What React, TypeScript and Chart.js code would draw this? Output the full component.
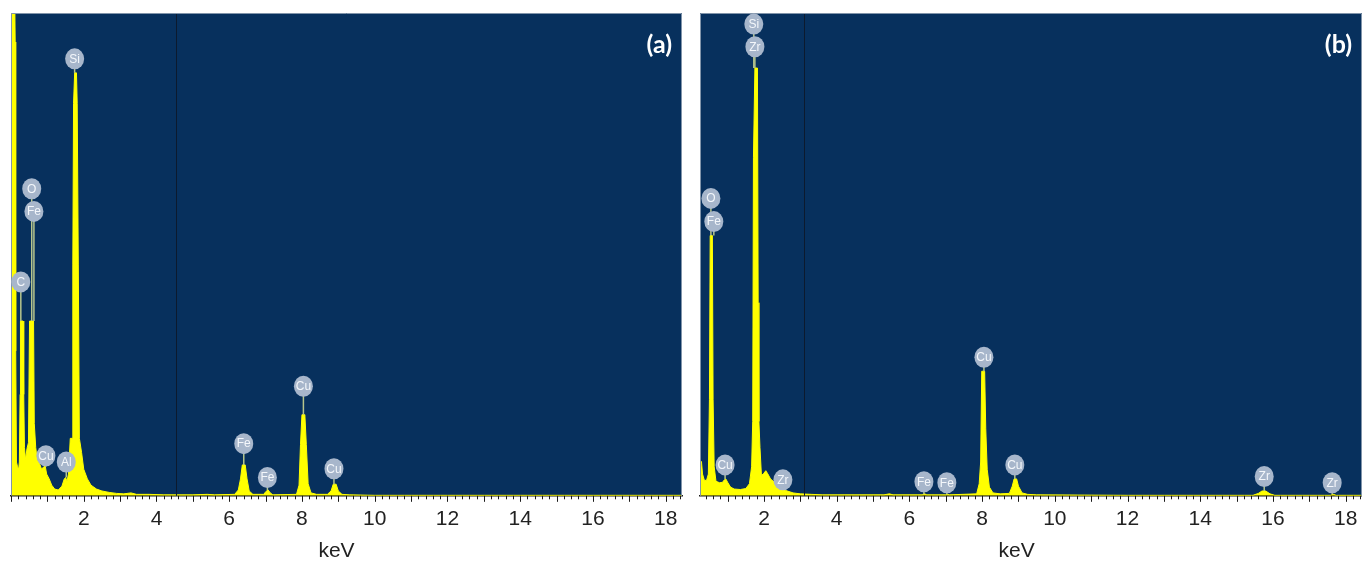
import React, { useEffect, useRef } from "react";
import { Chart, registerables } from "chart.js";
Chart.register(...registerables);

// ---------- data ----------
const tickValues = [2, 4, 6, 8, 10, 12, 14, 16, 18];

// Panel (a) spectrum: energy (keV) and counts (arbitrary, 0-1000 full scale)
const specA_keV = [
  0.0, 0.05, 0.1, 0.115, 0.13, 0.15, 0.18, 0.21, 0.23, 0.25, 0.26, 0.3, 0.33, 0.35, 0.37, 0.4, 0.44, 0.48,
  0.51, 0.57, 0.62, 0.64, 0.68, 0.72, 0.78, 0.84, 0.9, 0.94, 0.98, 1.05, 1.12, 1.2, 1.3, 1.4, 1.46, 1.5,
  1.54, 1.58, 1.63, 1.68, 1.7, 1.72, 1.75, 1.8, 1.82, 1.85, 1.88, 1.94, 2.0, 2.1, 2.2, 2.35, 2.5, 2.7,
  2.9, 3.1, 3.3, 3.45, 3.8, 4.2, 5.0, 5.4, 5.6, 6.15, 6.25, 6.31, 6.36, 6.44, 6.49, 6.55, 6.65, 6.95,
  7.01, 7.07, 7.13, 7.2, 7.85, 7.92, 7.96, 8.0, 8.08, 8.12, 8.17, 8.25, 8.4, 8.7, 8.8, 8.86, 8.94, 9.0,
  9.1, 9.3, 10.0, 12.0, 14.0, 16.0, 18.45,
];
const specA_counts = [
  1050, 1050, 1050, 940, 300, 70, 60, 55, 70, 210, 362, 362, 362, 210, 100, 75, 98, 110,
  362, 362, 362, 150, 100, 75, 68, 55, 60, 62, 45, 35, 22, 14, 12, 20, 34, 38,
  30, 45, 119, 119, 480, 813, 876, 876, 813, 480, 119, 90, 55, 35, 22, 14, 10, 7,
  5, 4, 6, 3, 3, 2, 2, 3, 2, 3, 12, 35, 64, 64, 35, 10, 3, 3,
  9, 12, 6, 2, 3, 22, 106, 168, 168, 106, 25, 6, 3, 3, 10, 24, 24, 10,
  3, 2, 1, 1, 1, 1, 1,
];

// Panel (b) spectrum
const specB_keV = [
  0.24, 0.28, 0.31, 0.36, 0.42, 0.47, 0.5, 0.52, 0.58, 0.6, 0.63, 0.68, 0.78, 0.86, 0.91, 0.95, 1.0, 1.08,
  1.18, 1.35, 1.5, 1.6, 1.66, 1.69, 1.71, 1.75, 1.82, 1.84, 1.86, 1.89, 1.93, 1.99, 2.05, 2.1, 2.18, 2.3,
  2.45, 2.6, 2.8, 3.0, 3.3, 3.6, 5.3, 5.45, 5.55, 6.35, 6.42, 6.48, 7.0, 7.05, 7.1, 7.85, 7.92, 7.96,
  7.99, 8.07, 8.1, 8.14, 8.2, 8.3, 8.5, 8.75, 8.83, 8.88, 8.95, 9.0, 9.1, 9.25, 9.5, 12.0, 15.45, 15.6,
  15.7, 15.8, 15.92, 16.05, 17.58, 17.66, 17.74, 18.45,
];
const specB_counts = [
  71, 71, 45, 32, 32, 45, 200, 539, 539, 200, 60, 30, 27, 28, 33, 35, 28, 18,
  14, 13, 15, 25, 60, 154, 700, 886, 886, 400, 154, 100, 42, 46, 52, 46, 35, 27,
  18, 11, 6, 4, 3, 2, 2, 4, 2, 2, 4, 2, 2, 3, 2, 4, 25, 70,
  258, 258, 140, 55, 18, 6, 4, 5, 20, 35, 35, 20, 6, 3, 2, 1, 1, 5,
  10, 10, 4, 1, 1, 3, 1, 1,
];

// Element tags: text, energy, tag height, peak height the stem reaches
const tagsA_text = ["C", "O", "Fe", "Si", "Cu", "Al", "Fe", "Fe", "Cu", "Cu"];
const tagsA_keV = [0.27, 0.57, 0.63, 1.75, 0.96, 1.52, 6.4, 7.05, 8.04, 8.88];
const tagsA_y = [443, 636, 589, 905, 83, 70, 108, 38, 227, 56];
const tagsA_stem = [362, 362, 362, 876, 60, 38, 64, 12, 168, 24];

const tagsB_text = ["O", "Fe", "Si", "Zr", "Cu", "Zr", "Fe", "Fe", "Cu", "Cu", "Zr", "Zr"];
const tagsB_keV = [0.54, 0.62, 1.72, 1.75, 0.93, 2.52, 6.4, 7.03, 8.05, 8.9, 15.76, 17.63];
const tagsB_y = [616, 568, 977, 930, 64, 33, 29, 27, 287, 64, 40, 27];
const tagsB_stem = [539, 539, 886, 886, 35, 12, 3, 3, 258, 35, 10, 3];

// ---------- style ----------
const NAVY = "#07305d";
const YELLOW = "#ffff00";
const BUBBLE = "#a7b6cb";
const STEM = "#b6c58c";
const FRAME = "#8194aa";

type PanelProps = {
  keV: number[];
  counts: number[];
  tagText: string[];
  tagKeV: number[];
  tagY: number[];
  tagStem: number[];
  xMin: number;
  xMax: number;
  cursor: number;
  letter: string;
  width: number;
  left: number;
  padLeft: number;
  padRight: number;
};

function Panel(p: PanelProps) {
  const ref = useRef<HTMLCanvasElement | null>(null);
  useEffect(() => {
    const canvas = ref.current!;
    const decor = {
      id: "decor",
      beforeDraw(chart: any) {
        const { ctx, chartArea: a } = chart;
        ctx.save();
        ctx.fillStyle = NAVY;
        ctx.fillRect(a.left, a.top, a.right - a.left, a.bottom - a.top);
        ctx.restore();
      },
      afterDatasetsDraw(chart: any) {
        const { ctx, chartArea: a } = chart;
        const xs = chart.scales.x;
        const ys = chart.scales.y;
        ctx.save();
        // cursor line
        const cx = Math.round(xs.getPixelForValue(p.cursor)) + 0.5;
        ctx.strokeStyle = "#0c1a2e";
        ctx.lineWidth = 1;
        ctx.beginPath();
        ctx.moveTo(cx, a.top);
        ctx.lineTo(cx, a.bottom);
        ctx.stroke();
        // frame
        ctx.strokeStyle = FRAME;
        ctx.beginPath();
        ctx.moveTo(a.left + 0.5, a.bottom);
        ctx.lineTo(a.left + 0.5, a.top + 0.5);
        ctx.lineTo(a.right - 0.5, a.top + 0.5);
        ctx.lineTo(a.right - 0.5, a.bottom);
        ctx.stroke();
        // stems
        ctx.strokeStyle = STEM;
        ctx.lineWidth = 1.5;
        for (let i = 0; i < p.tagText.length; i++) {
          const x = xs.getPixelForValue(p.tagKeV[i]);
          const y = ys.getPixelForValue(p.tagY[i]);
          const ye = ys.getPixelForValue(p.tagStem[i]);
          ctx.beginPath();
          ctx.moveTo(x, y + 9);
          ctx.lineTo(x, ye);
          ctx.stroke();
        }
        // bubbles
        for (let i = 0; i < p.tagText.length; i++) {
          const x = xs.getPixelForValue(p.tagKeV[i]);
          const y = ys.getPixelForValue(p.tagY[i]);
          ctx.fillStyle = BUBBLE;
          ctx.beginPath();
          ctx.ellipse(x, y, 9.5, 10.5, 0, 0, Math.PI * 2);
          ctx.fill();
          ctx.fillStyle = "#f4f7fb";
          ctx.font = "12px 'Liberation Sans', Arial, sans-serif";
          ctx.textAlign = "center";
          ctx.textBaseline = "middle";
          ctx.fillText(p.tagText[i], x, y + 0.5);
        }
        // panel letter
        ctx.fillStyle = "#ffffff";
        ctx.font = "bold 25px Lato, 'Open Sans', sans-serif";
        ctx.textAlign = "right";
        ctx.textBaseline = "middle";
        ctx.fillText(p.letter, a.right - 10, a.top + 32);
        ctx.restore();
      },
      afterDraw(chart: any) {
        const { ctx, chartArea: a } = chart;
        const xs = chart.scales.x;
        ctx.save();
        ctx.strokeStyle = "#1a1a1a";
        ctx.lineWidth = 1;
        const i0 = Math.ceil(p.xMin * 5);
        const i1 = Math.floor(p.xMax * 5);
        for (let i = i0; i <= i1; i++) {
          const v = i / 5;
          const x = Math.round(xs.getPixelForValue(v)) + 0.5;
          const len = i % 5 === 0 ? 6 : 3.5;
          ctx.beginPath();
          ctx.moveTo(x, a.bottom);
          ctx.lineTo(x, a.bottom + len);
          ctx.stroke();
        }
        // axis title
        ctx.fillStyle = "#222222";
        ctx.font = "21px 'Liberation Sans', Arial, sans-serif";
        ctx.textAlign = "center";
        ctx.textBaseline = "middle";
        ctx.fillText("keV", xs.getPixelForValue(8.95), 551);
        ctx.restore();
      },
    };

    const chart = new Chart(canvas, {
      type: "line",
      data: {
        datasets: [
          {
            data: p.keV.map((x, i) => ({ x, y: p.counts[i] })),
            borderColor: YELLOW,
            backgroundColor: YELLOW,
            borderWidth: 1,
            pointRadius: 0,
            fill: "origin",
            tension: 0,
          },
        ],
      },
      options: {
        responsive: false,
        animation: false,
        devicePixelRatio: 1,
        layout: { padding: { left: p.padLeft, right: p.padRight, top: 13, bottom: 21 } },
        plugins: { legend: { display: false }, tooltip: { enabled: false } },
        scales: {
          x: {
            type: "linear",
            min: p.xMin,
            max: p.xMax,
            afterBuildTicks: (s: any) => {
              s.ticks = tickValues.map((v) => ({ value: v }));
            },
            ticks: {
              autoSkip: false,
              maxRotation: 0,
              padding: 11,
              color: "#222222",
              font: { family: "'Liberation Sans', Arial, sans-serif", size: 21 },
              callback: (v: any) => String(v),
            },
            grid: { display: false, drawTicks: false },
            border: { display: true, color: "#1a1a1a", width: 1.5 },
          },
          y: { display: false, min: 0, max: 1000 },
        },
      },
      plugins: [decor],
    } as any);
    return () => chart.destroy();
  }, []);
  return (
    <canvas
      ref={ref}
      width={p.width}
      height={564}
      style={{ position: "absolute", left: p.left, top: 0, width: p.width, height: 564 }}
    />
  );
}

export default function App() {
  return (
    <div style={{ position: "fixed", left: 0, top: 0, width: 1362, height: 564, background: "#ffffff", overflow: "hidden" }}>
      <Panel
        keV={specA_keV}
        counts={specA_counts}
        tagText={tagsA_text}
        tagKeV={tagsA_keV}
        tagY={tagsA_y}
        tagStem={tagsA_stem}
        xMin={0}
        xMax={18.45}
        cursor={4.55}
        letter="(a)"
        width={690}
        left={0}
        padLeft={11}
        padRight={8}
      />
      <Panel
        keV={specB_keV}
        counts={specB_counts}
        tagText={tagsB_text}
        tagKeV={tagsB_keV}
        tagY={tagsB_y}
        tagStem={tagsB_stem}
        xMin={0.24}
        xMax={18.45}
        cursor={3.1}
        letter="(b)"
        width={697}
        left={690}
        padLeft={10}
        padRight={25}
      />
    </div>
  );
}
